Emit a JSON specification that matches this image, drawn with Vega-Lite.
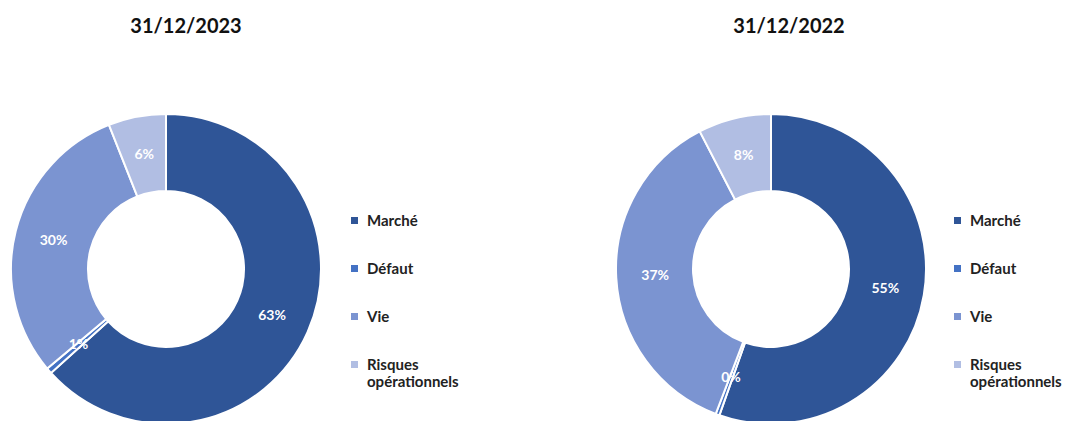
{
  "$schema": "https://vega.github.io/schema/vega-lite/v6.json",
  "padding": {"top": 17, "left": 0, "right": 0, "bottom": 0},
  "background": "white",
  "spacing": 146,
  "config": {"view": {"stroke": null}, "font": "Lato"},
  "data": {"values": [
    {"year": "31/12/2023", "cat": "Marché", "order": 1, "pct": 0.633},
    {"year": "31/12/2023", "cat": "Défaut", "order": 2, "pct": 0.006},
    {"year": "31/12/2023", "cat": "Vie", "order": 3, "pct": 0.301},
    {"year": "31/12/2023", "cat": "Risques opérationnels", "order": 4, "pct": 0.060},
    {"year": "31/12/2022", "cat": "Marché", "order": 1, "pct": 0.554},
    {"year": "31/12/2022", "cat": "Défaut", "order": 2, "pct": 0.004},
    {"year": "31/12/2022", "cat": "Vie", "order": 3, "pct": 0.366},
    {"year": "31/12/2022", "cat": "Risques opérationnels", "order": 4, "pct": 0.076}
  ]},
  "resolve": {"legend": {"color": "independent"}, "scale": {"color": "independent"}},
  "hconcat": [
    {
      "width": 332, "height": 310,
      "title": {"text": "31/12/2023", "fontSize": 20, "fontWeight": "bold", "color": "#111", "offset": 73, "dx": 20},
      "transform": [{"filter": "datum.year == '31/12/2023'"}],
      "encoding": {
        "theta": {"field": "pct", "type": "quantitative", "stack": true},
        "order": {"field": "order", "type": "quantitative"},
        "color": {"field": "cat", "type": "nominal",
          "scale": {"domain": ["Marché", "Défaut", "Vie", "Risques opérationnels"], "range": ["#2F5597", "#4472C4", "#7B94D1", "#B1BEE3"]},
          "sort": ["Marché", "Défaut", "Vie", "Risques opérationnels"],
          "legend": {"title": null, "orient": "none", "legendX": 347, "legendY": 99, "padding": 0,
            "symbolType": "square", "symbolSize": 49, "symbolStrokeWidth": 0, "labelFontSize": 15, "labelFontWeight": "bold", "labelColor": "#222",
            "rowPadding": 32, "labelOffset": 5, "labelLimit": 200,
            "labelExpr": "datum.label == 'Risques opérationnels' ? ['Risques', 'opérationnels'] : datum.label"}
        }
      },
      "layer": [
        {"mark": {"type": "arc", "innerRadius": 78, "outerRadius": 155, "stroke": "white", "strokeWidth": 2}},
        {"mark": {"type": "text", "radius": 116, "fontSize": 14, "fontWeight": "bold"},
         "encoding": {"text": {"field": "pct", "type": "quantitative", "format": ".0%"}, "color": {"value": "white"}}}
      ]
    },
    {
      "width": 332, "height": 310,
      "title": {"text": "31/12/2022", "fontSize": 20, "fontWeight": "bold", "color": "#111", "offset": 73, "dx": 18},
      "transform": [{"filter": "datum.year == '31/12/2022'"}],
      "encoding": {
        "theta": {"field": "pct", "type": "quantitative", "stack": true},
        "order": {"field": "order", "type": "quantitative"},
        "color": {"field": "cat", "type": "nominal",
          "scale": {"domain": ["Marché", "Défaut", "Vie", "Risques opérationnels"], "range": ["#2F5597", "#4472C4", "#7B94D1", "#B1BEE3"]},
          "sort": ["Marché", "Défaut", "Vie", "Risques opérationnels"],
          "legend": {"title": null, "orient": "none", "legendX": 345, "legendY": 99, "padding": 0,
            "symbolType": "square", "symbolSize": 49, "symbolStrokeWidth": 0, "labelFontSize": 15, "labelFontWeight": "bold", "labelColor": "#222",
            "rowPadding": 32, "labelOffset": 5, "labelLimit": 200,
            "labelExpr": "datum.label == 'Risques opérationnels' ? ['Risques', 'opérationnels'] : datum.label"}
        }
      },
      "layer": [
        {"mark": {"type": "arc", "innerRadius": 78, "outerRadius": 155, "stroke": "white", "strokeWidth": 2}},
        {"mark": {"type": "text", "radius": 116, "fontSize": 14, "fontWeight": "bold"},
         "encoding": {"text": {"field": "pct", "type": "quantitative", "format": ".0%"}, "color": {"value": "white"}}}
      ]
    }
  ]
}
